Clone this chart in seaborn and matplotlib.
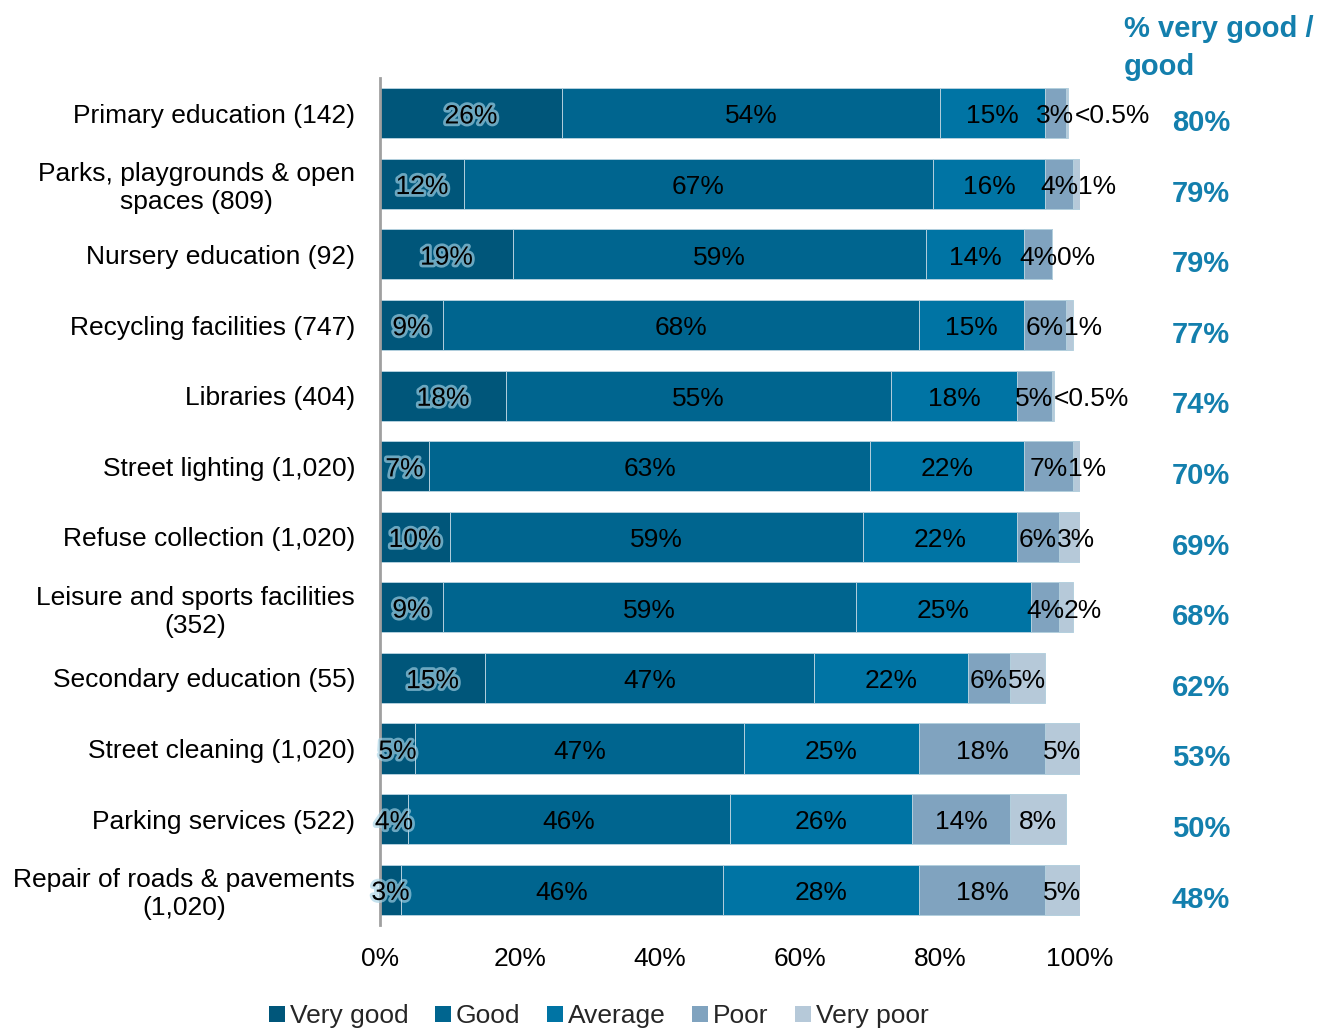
import numpy as np
import pandas as pd
import matplotlib
matplotlib.use("Agg")
import matplotlib.pyplot as plt
import matplotlib.patheffects as pe
from matplotlib.patches import Patch
import seaborn as sns

categories = [
    "Primary education (142)",
    "Parks, playgrounds & open\nspaces (809)",
    "Nursery education (92)",
    "Recycling facilities (747)",
    "Libraries (404)",
    "Street lighting (1,020)",
    "Refuse collection (1,020)",
    "Leisure and sports facilities\n(352)",
    "Secondary education (55)",
    "Street cleaning (1,020)",
    "Parking services (522)",
    "Repair of roads & pavements\n(1,020)",
]
very_good = [26, 12, 19, 9, 18, 7, 10, 9, 15, 5, 4, 3]
good      = [54, 67, 59, 68, 55, 63, 59, 59, 47, 47, 46, 46]
average   = [15, 16, 14, 15, 18, 22, 22, 25, 22, 25, 26, 28]
poor      = [3, 4, 4, 6, 5, 7, 6, 4, 6, 18, 14, 18]
very_poor = [0.3, 1, 0, 1, 0.3, 1, 3, 2, 5, 5, 8, 5]
very_poor_labels = ["<0.5%", "1%", "0%", "1%", "<0.5%", "1%", "3%", "2%", "5%", "5%", "8%", "5%"]
pct_vg_good = ["80%", "79%", "79%", "77%", "74%", "70%", "69%", "68%", "62%", "53%", "50%", "48%"]
series_names = ["Very good", "Good", "Average", "Poor", "Very poor"]
colors = ["#00567a", "#00658f", "#0074a4", "#80a3bf", "#b6c9d9"]
x_ticks = [0, 20, 40, 60, 80, 100]

sns.set_theme(style="white")
plt.rcParams["font.family"] = ["Liberation Sans", "DejaVu Sans"]

fig = plt.figure(figsize=(13.19, 10.34), dpi=100)
ax = fig.add_axes([0.2881, 0.1054, 0.5307, 0.8192])

series = [very_good, good, average, poor, very_poor]
vals = np.array(series, dtype=float)  # 5 x 12
cum = np.cumsum(vals, axis=0)

# draw cumulative layers from outermost to innermost
for k in range(4, -1, -1):
    df = pd.DataFrame({"cat": categories, "val": cum[k]})
    sns.barplot(data=df, x="val", y="cat", order=categories, orient="h",
                color=colors[k], saturation=1, width=0.71, errorbar=None,
                edgecolor="#b4d0de", linewidth=0.7, ax=ax)

fs = 19
ax.set_xlim(0, 100)
ax.set_ylim(11.5, -0.5)
ax.set_xlabel("")
ax.set_ylabel("")
ax.set_xticks(x_ticks)
ax.set_xticklabels([f"{t}%" for t in x_ticks])
ax.tick_params(axis="x", length=0, pad=15.5, labelsize=fs, colors="black")
ax.tick_params(axis="y", length=0, pad=18, labelsize=fs, colors="black")
for lab in ax.get_yticklabels():
    lab.set_multialignment("center")
for s in ["top", "right", "bottom"]:
    ax.spines[s].set_visible(False)
ax.spines["left"].set_color("#a0a0a0")
ax.spines["left"].set_linewidth(2)
ax.grid(False)

glow = [pe.withStroke(linewidth=4, foreground="#a6d3e6", alpha=0.65)]
fig.canvas.draw()
renderer = fig.canvas.get_renderer()
inv = ax.transData.inverted()

dy = 0.045  # baseline nudge so digits sit centred in the bar
for i in range(len(categories)):
    starts = np.concatenate([[0], cum[:, i][:-1]])
    for k in range(4):
        v = vals[k, i]
        xc = starts[k] + v / 2
        t = ax.text(xc, i + dy, f"{int(round(v))}%", ha="center", va="center",
                    fontsize=fs, color="black",
                    path_effects=glow if k == 0 else None)
        if k == 3:
            poor_txt = t
    # very poor: avoid overlapping the poor label
    bb = poor_txt.get_window_extent(renderer)
    right_edge = inv.transform((bb.x1, 0))[0]
    vp_center = starts[4] + vals[4, i] / 2
    t2 = ax.text(vp_center, i + dy, very_poor_labels[i], ha="center", va="center",
                 fontsize=fs, color="black")
    bb2 = t2.get_window_extent(renderer)
    half_w = (inv.transform((bb2.x1, 0))[0] - inv.transform((bb2.x0, 0))[0]) / 2
    if vp_center - half_w < right_edge:
        t2.set_x(right_edge + half_w)
    t2.set_clip_on(False)
    # % very good / good
    ax.text(117.3, i + 0.14, pct_vg_good[i], ha="center", va="center",
            fontsize=21, fontweight="bold", color="#137fad", clip_on=False)

fig.text(1124 / 1319, 1 - 15 / 1034, "% very good /\ngood", ha="left", va="top",
         fontsize=21, fontweight="bold", color="#137fad", linespacing=1.45)

handles = [Patch(facecolor=c, edgecolor="none") for c in colors]
fig.legend(handles, series_names, loc="center", bbox_to_anchor=(0.454, 0.017),
           ncol=5, frameon=False, fontsize=fs, handlelength=0.6, handleheight=0.6,
           handletextpad=0.2, columnspacing=1.0)

fig.savefig("out.png", dpi=100)
